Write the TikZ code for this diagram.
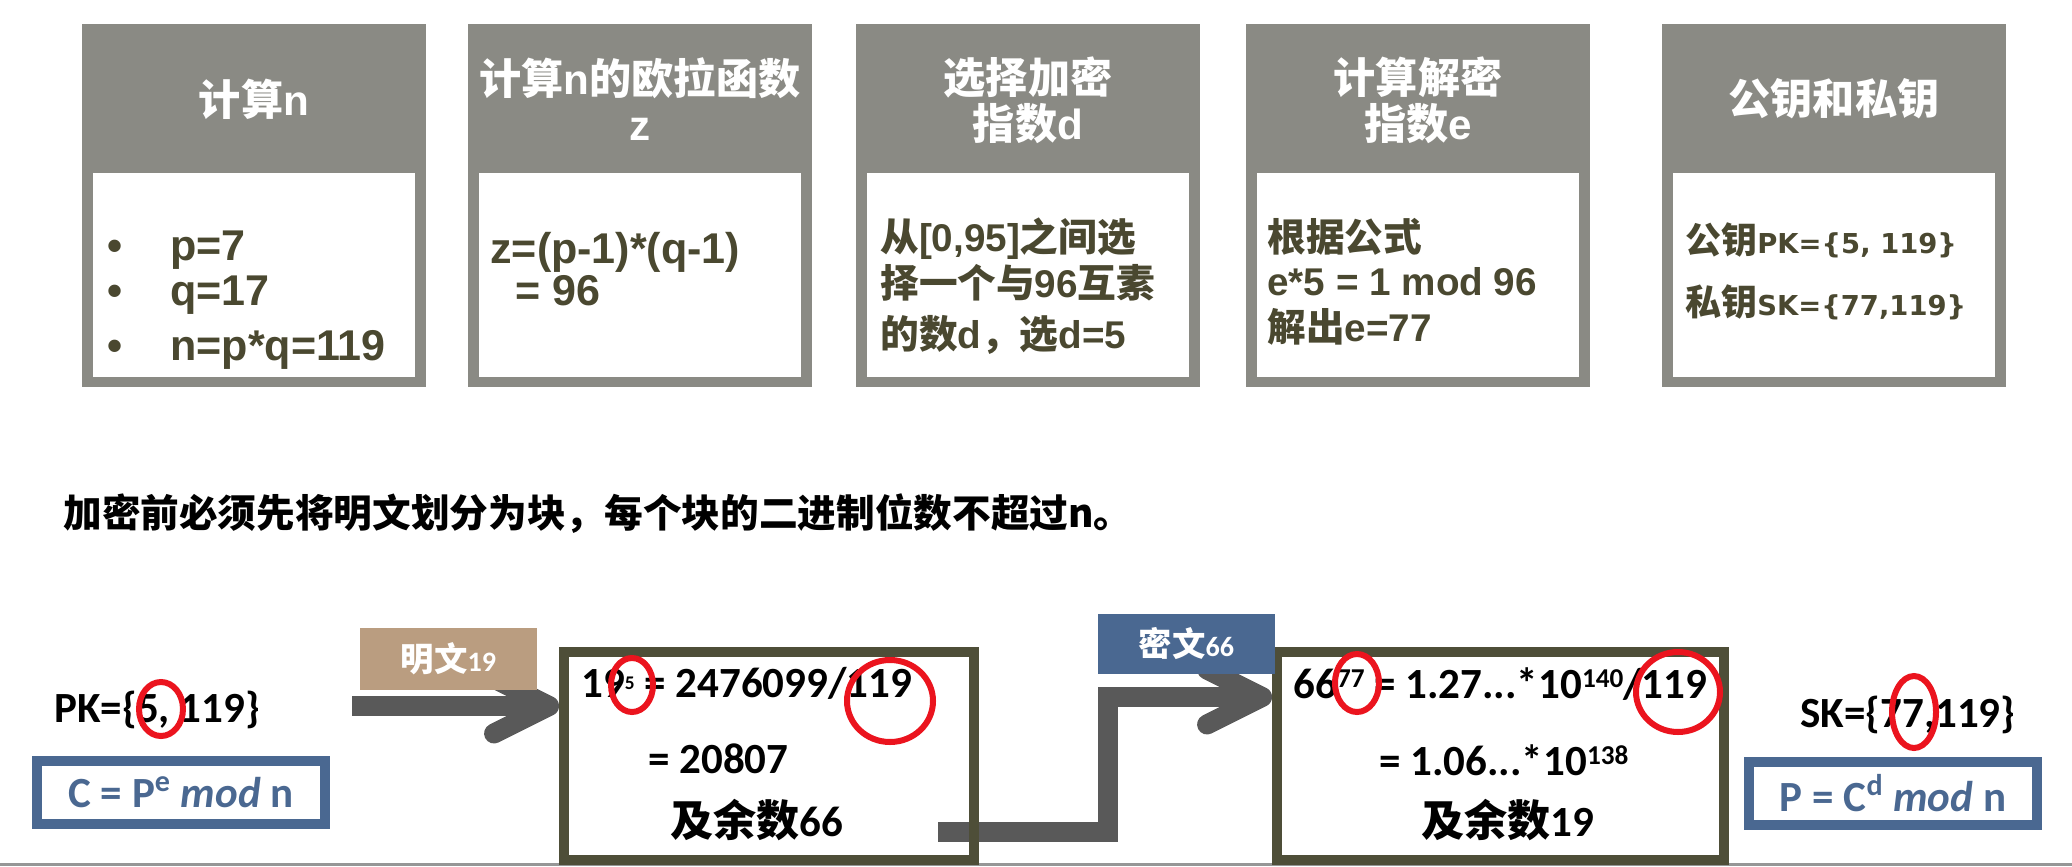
\documentclass[tikz,border=0pt]{standalone}
\usepackage{fontspec}
\setmainfont{Liberation Sans}
\newfontfamily\cjk{Noto Sans CJK SC}
\newfontfamily\calib{Carlito}
\newfontfamily\dejavu{DejaVu Sans}
\usetikzlibrary{arrows.meta, calc, backgrounds}

\newcommand{\zh}[1]{{\cjk #1}}
\newcommand{\hdrfont}{\fontsize{24}{26}\selectfont\bfseries}
\newcommand{\bigbody}{\fontsize{24.5}{28}\selectfont\bfseries}
\newcommand{\midbody}{\fontsize{22}{26}\selectfont\bfseries}
\newcommand{\keybody}{\fontsize{20.5}{24}\selectfont\bfseries}
\newcommand{\keylatin}{\fontsize{15.6}{18}\selectfont\dejavu\bfseries}
\newcommand{\notefont}{\fontsize{22}{26}\selectfont\cjk\bfseries}
\newcommand{\calcfont}{\fontsize{24.5}{28}\selectfont\calib\bfseries}
\newcommand{\tagfont}{\fontsize{19}{22}\selectfont\bfseries}
\newcommand{\tagnum}{\fontsize{16}{18}\selectfont\calib\bfseries}
% small raised exponents
\newcommand{\powup}[1]{\raisebox{6pt}{\fontsize{15.5}{15.5}\selectfont #1}}
\newcommand{\powtiny}[1]{\raisebox{4.5pt}{\fontsize{11}{11}\selectfont #1}}

\definecolor{cardgray}{RGB}{138,138,132}
\definecolor{inkolive}{RGB}{74,72,48}
\definecolor{frameolive}{RGB}{78,78,56}
\definecolor{arrowgray}{RGB}{89,89,89}
\definecolor{plaintan}{RGB}{186,157,128}
\definecolor{cipherblue}{RGB}{74,104,145}
\definecolor{markred}{RGB}{235,20,30}
\definecolor{edgegray}{RGB}{150,150,150}

\tikzset{
  hdr/.style={text=white, font=\hdrfont, align=center, inner sep=0},
  body/.style={text=inkolive, anchor=base west, inner sep=0},
  calc/.style={text=black, anchor=base west, inner sep=0, font=\calcfont},
  calcbox/.style={draw=frameolive, line width=0.2cm, minimum height=4.16cm, inner sep=0},
  formula/.style={draw=cipherblue, line width=0.2cm, minimum width=5.76cm,
    minimum height=1.26cm, inner sep=0, text=cipherblue, font=\calcfont},
  tag/.style={text=white, inner sep=0, font=\tagfont, minimum width=3.54cm},
  bigarrow/.style={draw=arrowgray, line width=0.4cm,
    -{Straight Barb[round, length=1.1cm, width=1.1cm]}},
  redring/.style={draw=markred, line width=0.12cm}
}

\begin{document}
\begin{tikzpicture}[x=0.02cm, y=0.02cm]
  % Bounding box (pixels of the slide)
  \path[use as bounding box] (0,0) rectangle (2072,-866);

  % Key generation cards.
  \foreach \cx in {82,468,856,1246,1662} {
    \fill[cardgray] (\cx,-24) rectangle ++(344,-363);
    \fill[white] (\cx+11,-173) rectangle ++(322,-204);
  }

  % Card headers.
  \node[hdr] (hdrN) at (254,-99) {\zh{计算}n};
  \node[hdr] (hdrPhi) at (640,-99) {\zh{计算}n\zh{的欧拉函数}\\z};
  \node[hdr] (hdrD) at (1028,-100) {\zh{选择加密}\\\zh{指数}d};
  \node[hdr] (hdrE) at (1418,-100) {\zh{计算解密}\\\zh{指数}e};
  \node[hdr] (hdrKey) at (1834,-99) {\zh{公钥和私钥}};

  % Card contents.
  \node[body, font=\bigbody] (lineP) at (107,-260) {\makebox[1.26cm][l]{•}p=7};
  \node[body, font=\bigbody] (lineQ) at (107,-305) {\makebox[1.26cm][l]{•}q=17};
  \node[body, font=\bigbody] (lineN) at (107,-360) {\makebox[1.26cm][l]{•}n=p*q=119};

  \node[body, font=\bigbody] (lineZ) at (490,-263) {z=(p-1)*(q-1)};
  \node[body, font=\bigbody] (lineZv) at (515,-305) {= 96};

  \node[body, font=\midbody] (lineD1) at (880,-251) {\zh{从}[0,95]\zh{之间选}};
  \node[body, font=\midbody] (lineD2) at (880,-297) {\zh{择一个与}96\zh{互素}};
  \node[body, font=\midbody] (lineD3) at (880,-348) {\zh{的数}d\zh{，选}d=5};

  \node[body, font=\midbody] (lineE1) at (1267,-251) {\zh{根据公式}};
  \node[body, font=\midbody] (lineE2) at (1267,-295) {e*5 = 1 mod 96};
  \node[body, font=\midbody] (lineE3) at (1267,-341) {\zh{解出}e=77};

  \node[body, font=\keybody] (linePK) at (1685,-253) {\zh{公钥}{\keylatin PK=\{5, 119\}}};
  \node[body, font=\keybody] (lineSK) at (1685,-315) {\zh{私钥}{\keylatin SK=\{77,119\}}};

  % Note on blocks.
  \node[anchor=base west, inner sep=0, font=\notefont] (blocknote) at (63,-527)
    {加密前必须先将明文划分为块，每个块的二进制位数不超过n。};

  % Slide edge.
  \draw[edgegray, line width=0.06cm] (0,-864) -- (2072,-864);

  % Calculation boxes.
  \node[calcbox, minimum width=8.2cm] (encbox) at (769,-756) {};
  \node[calcbox, minimum width=8.94cm] (decbox) at (1500.5,-756) {};

  % Arrows, under the frames.
  \coordinate (plainin) at (352,-706);
  \coordinate (cipherout) at (938,-832);
  \coordinate (cipherbend) at (1108,-697);
  \begin{pgfonlayer}{background}
    \draw[bigarrow] (plainin) -- (plainin -| encbox.west);
    \draw[bigarrow] (cipherout) -| (cipherbend) -- (cipherbend -| decbox.west);
  \end{pgfonlayer}

  % Labels on the arrows.
  \node[tag, fill=plaintan, minimum height=1.24cm] (plaintag) at (448.5,-659)
    {\zh{明文}{\tagnum 19}};
  \node[tag, fill=cipherblue, minimum height=1.2cm] (ciphertag) at (1186.5,-644)
    {\zh{密文}{\tagnum 66}};

  % Keys and rules.
  \node[calc] (pkleft) at (54,-722) {PK=\{5, 119\}};
  \node[calc] (skright) at (1800,-727) {SK=\{77,119\}};
  \node[formula] (encrule) at (181,-792.5)
    {C = P\textsuperscript{e} \textit{mod} n};
  \node[formula] (decrule) at (1893,-793)
    {P = C\textsuperscript{d} \textit{mod} n};

  % Encryption.
  \node[calc] (powA) at (581,-697) {19\powtiny{5} = 2476099/119};
  \node[calc] (quotA) at (648,-773) {= 20807};
  \node[calc, anchor=base] (remA) at (757,-836) {\zh{及余数}66};

  % Decryption.
  \node[calc] (powB) at (1293,-698)
    {66\powup{77} = 1.27...*10\powup{140}/119};
  \node[calc] (quotB) at (1379,-775) {= 1.06...*10\powup{138}};
  \node[calc, anchor=base] (remB) at (1508,-836) {\zh{及余数}19};

  % Red marks.
  \draw[redring] (161,-709) ellipse [x radius=22, y radius=27];
  \draw[redring] (632,-685) ellipse [x radius=21, y radius=27];
  \draw[redring] (890,-701) ellipse [x radius=43, y radius=41];
  \draw[redring] (1357,-683) ellipse [x radius=22, y radius=29];
  \draw[redring] (1678,-692) ellipse [x radius=42, y radius=40];
  \draw[redring] (1914,-712) ellipse [x radius=22, y radius=36];
\end{tikzpicture}
\end{document}
